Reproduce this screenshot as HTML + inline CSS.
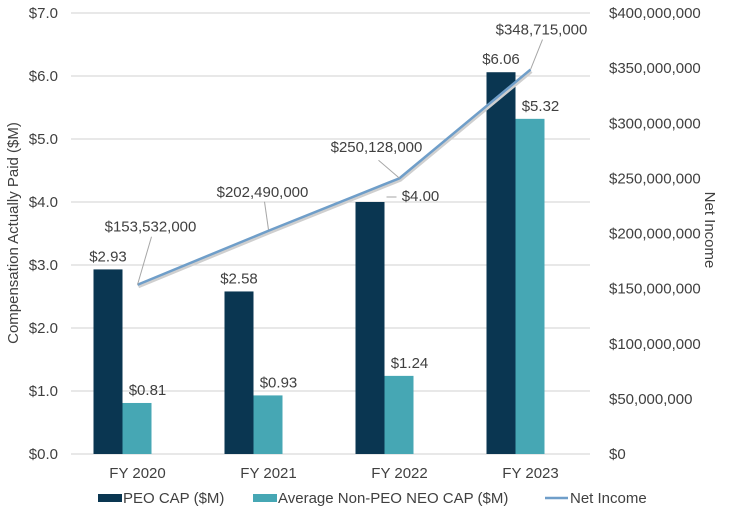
<!DOCTYPE html>
<html><head><meta charset="utf-8"><style>
body{margin:0;background:#fff}
svg{font-family:"Liberation Sans",Arial,sans-serif;fill:#404040}
</style></head><body>
<svg id="c" width="729" height="510"></svg>
<script>
const categories=["FY 2020","FY 2021","FY 2022","FY 2023"];
const peoCap=[2.93,2.58,4.00,6.06];
const neoCap=[0.81,0.93,1.24,5.32];
const netIncome=[153532000,202490000,250128000,348715000];
const leftTicks=[0,1,2,3,4,5,6,7];
const rightTicks=[0,50000000,100000000,150000000,200000000,250000000,300000000,350000000,400000000];
const NS="http://www.w3.org/2000/svg",svg=document.getElementById('c');
function el(t,a,p){const e=document.createElementNS(NS,t);for(const k in a)e.setAttribute(k,a[k]);(p||svg).appendChild(e);return e;}
const y0=454,yTop=13,FS=15;
const yL=v=>y0-(v/7)*(y0-yTop);
const yR=v=>y0-(v/400000000)*(y0-yTop);
const xC=i=>137.5+i*131;
const bw=29;
leftTicks.forEach(t=>{
  const g=el('line',{x1:71,x2:590,y1:yL(t),y2:yL(t),stroke:'#d9d9d9','stroke-width':1.2});
  
  const tx=el('text',{x:58,y:yL(t)+5,'text-anchor':'end','font-size':FS});tx.textContent='$'+t.toFixed(1);
  
});
rightTicks.forEach(t=>{
  const tx=el('text',{x:609,y:yR(t)+5,'font-size':FS});tx.textContent='$'+t.toLocaleString('en-US');
  
});
categories.forEach((c,i)=>{
  const tx=el('text',{x:xC(i),y:478,'text-anchor':'middle','font-size':FS});tx.textContent=c;
  
  const b1=el('rect',{x:xC(i)-44,y:yL(peoCap[i]),width:bw,height:y0-yL(peoCap[i]),fill:'#0a3651'});
  
  const b2=el('rect',{x:xC(i)-15,y:yL(neoCap[i]),width:bw,height:y0-yL(neoCap[i]),fill:'#46a7b4'});
  
  let lx=xC(i)-29.5,ly=yL(peoCap[i])-8;
  if(i===2){lx=xC(i)+21;ly=yL(peoCap[i])-1;
    const sl=el('line',{x1:xC(i)-13,y1:yL(peoCap[i])-5,x2:xC(i)-3,y2:yL(peoCap[i])-5,stroke:'#a6a6a6','stroke-width':1});
    }
  const l1=el('text',{x:lx,y:ly,'text-anchor':'middle','font-size':FS});l1.textContent='$'+peoCap[i].toFixed(2);
  
  const l2=el('text',{x:xC(i)+10,y:yL(neoCap[i])-8,'text-anchor':'middle','font-size':FS});l2.textContent='$'+neoCap[i].toFixed(2);
  
});
const pts=netIncome.map((v,i)=>[xC(i),yR(v)]);
const sh=el('polyline',{points:pts.map(p=>(p[0]+1)+','+(p[1]+2)).join(' '),fill:'none',stroke:'#cfcfcf','stroke-width':3});

const ln=el('polyline',{points:pts.map(p=>p.join(',')).join(' '),fill:'none',stroke:'#6f9ec9','stroke-width':2.5});

// label offsets relative to data point: [labelCenterDx, baselineDy, leaderEndDx, leaderEndDy, leaderStartDx, leaderStartDy]
const lab=[[13,-53,14,-48,0,0],[-6,-34,-4,-29,0,-1],[-23,-26,-21,-18,0,0],[11,-35,12,-30,0,0]];
netIncome.forEach((v,i)=>{
  const [px,py]=pts[i],o=lab[i];
  const ll=el('line',{x1:px+o[4],y1:py+o[5],x2:px+o[2],y2:py+o[3],stroke:'#a6a6a6','stroke-width':1});
  
  const t=el('text',{x:px+o[0],y:py+o[1],'text-anchor':'middle','font-size':FS});t.textContent='$'+v.toLocaleString('en-US');
  
});
const yt=el('text',{transform:'translate(18,233) rotate(-90)','text-anchor':'middle','font-size':FS});yt.textContent='Compensation Actually Paid ($M)';

const rt=el('text',{transform:'translate(705,230) rotate(90)','text-anchor':'middle','font-size':FS});rt.textContent='Net Income';

const lg=el('g',{});
let r=el('rect',{x:98,y:494,width:24,height:8,fill:'#0a3651'},lg);
let t=el('text',{x:123,y:503,'font-size':FS},lg);t.textContent='PEO CAP ($M)';
r=el('rect',{x:253,y:494,width:24,height:8,fill:'#46a7b4'},lg);
t=el('text',{x:278,y:503,'font-size':FS},lg);t.textContent='Average Non-PEO NEO CAP ($M)';
r=el('line',{x1:545,x2:568,y1:498,y2:498,stroke:'#6f9ec9','stroke-width':2.5},lg);
t=el('text',{x:570,y:503,'font-size':FS},lg);t.textContent='Net Income';
</script>
</body></html>
